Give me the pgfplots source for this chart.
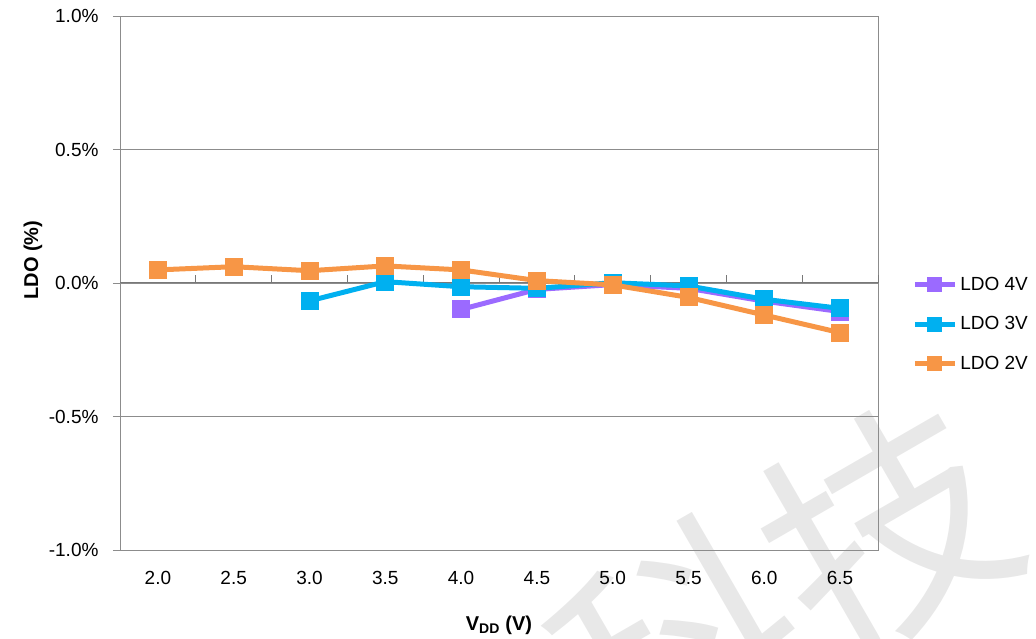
\documentclass[border=0pt]{standalone}
\usepackage{pgfplots}
\pgfplotsset{compat=1.18}
\usepackage{fontspec}
\setmainfont{Liberation Sans}
\newfontfamily\cjk{Noto Sans CJK SC}
\definecolor{c4v}{RGB}{155,106,255}
\definecolor{c3v}{RGB}{0,176,240}
\definecolor{c2v}{RGB}{247,150,70}
\definecolor{gridc}{RGB}{140,140,140}
\definecolor{zeroc}{RGB}{120,120,120}
\begin{document}
\begin{tikzpicture}[x=1pt,y=1pt]
\useasboundingbox (0,0) rectangle (1036,639);
\begin{scope}
\clip (0,0) rectangle (1036,639);
\node[rotate=30, text=black!9, font=\cjk\fontsize{240}{240}\selectfont, inner sep=0pt] at (782,50) {科技};
\end{scope}
\begin{axis}[
  at={(120pt,89pt)}, anchor=south west,
  scale only axis, width=758pt, height=534pt,
  xmin=1.75, xmax=6.75, ymin=-1, ymax=1,
  axis line style={gridc, line width=0.8pt},
  xtick={2,2.5,3,3.5,4,4.5,5,5.5,6,6.5},
  xticklabels={2.0,2.5,3.0,3.5,4.0,4.5,5.0,5.5,6.0,6.5},
  x tick style={draw=none},
  xticklabel style={yshift=-11pt},
  ytick={-1,-0.5,0,0.5,1},
  yticklabels={-1.0\%,-0.5\%,0.0\%,0.5\%,1.0\%},
  yticklabel style={xshift=-11pt},
  ytick pos=left,
  tick align=outside,
  major tick length=7pt,
  y tick style={gridc, line width=0.8pt},
  ymajorgrids,
  grid style={gridc, line width=0.8pt},
  tick label style={font=\fontsize{19}{21}\selectfont},
  legend style={at={(1.045,0.423)}, anchor=west, draw=none, fill=none,
    font=\fontsize{19}{21}\selectfont, row sep=19pt, inner sep=0pt,
    nodes={inner sep=3pt}},
  legend cell align=left,
  legend image code/.code={
    \draw[#1, mark repeat=2, mark phase=2, mark size=5pt]
      plot coordinates {(0pt,0pt) (20pt,0pt) (40pt,0pt)};
  },
  every axis plot/.append style={line width=5pt, mark=square*, mark size=6.5pt,
    mark options={solid, line width=0pt}},
  clip=false,
]
\draw[zeroc, line width=1pt] (axis cs:1.75,0) -- (axis cs:6.75,0);
\pgfplotsinvokeforeach{2.25,2.75,3.25,3.75,4.25,4.75,5.25,5.75,6.25,6.75}{
  \draw[zeroc, line width=1pt] (axis cs:#1,0) -- ++(0pt,8pt);
}
\addplot[c4v, mark options={fill=c4v, draw=c4v}] coordinates {
  (4.0,-0.099) (4.5,-0.024) (5.0,-0.006) (5.5,-0.02) (6.0,-0.068) (6.5,-0.107)};
\addlegendentry{LDO 4V}
\addplot[c3v, mark options={fill=c3v, draw=c3v}] coordinates {
  (3.0,-0.067) (3.5,0.005) (4.0,-0.014) (4.5,-0.02) (5.0,0.001) (5.5,-0.011) (6.0,-0.061) (6.5,-0.095)};
\addlegendentry{LDO 3V}
\addplot[c2v, mark options={fill=c2v, draw=c2v}] coordinates {
  (2.0,0.049) (2.5,0.061) (3.0,0.046) (3.5,0.064) (4.0,0.049) (4.5,0.009) (5.0,-0.007) (5.5,-0.054) (6.0,-0.12) (6.5,-0.186)};
\addlegendentry{LDO 2V}
\end{axis}
\node[font=\bfseries\fontsize{20}{22}\selectfont] at (499,14) {V\textsubscript{DD} (V)};
\node[font=\bfseries\fontsize{20}{22}\selectfont, rotate=90] at (33,379) {LDO (\%)};
\end{tikzpicture}
\end{document}
